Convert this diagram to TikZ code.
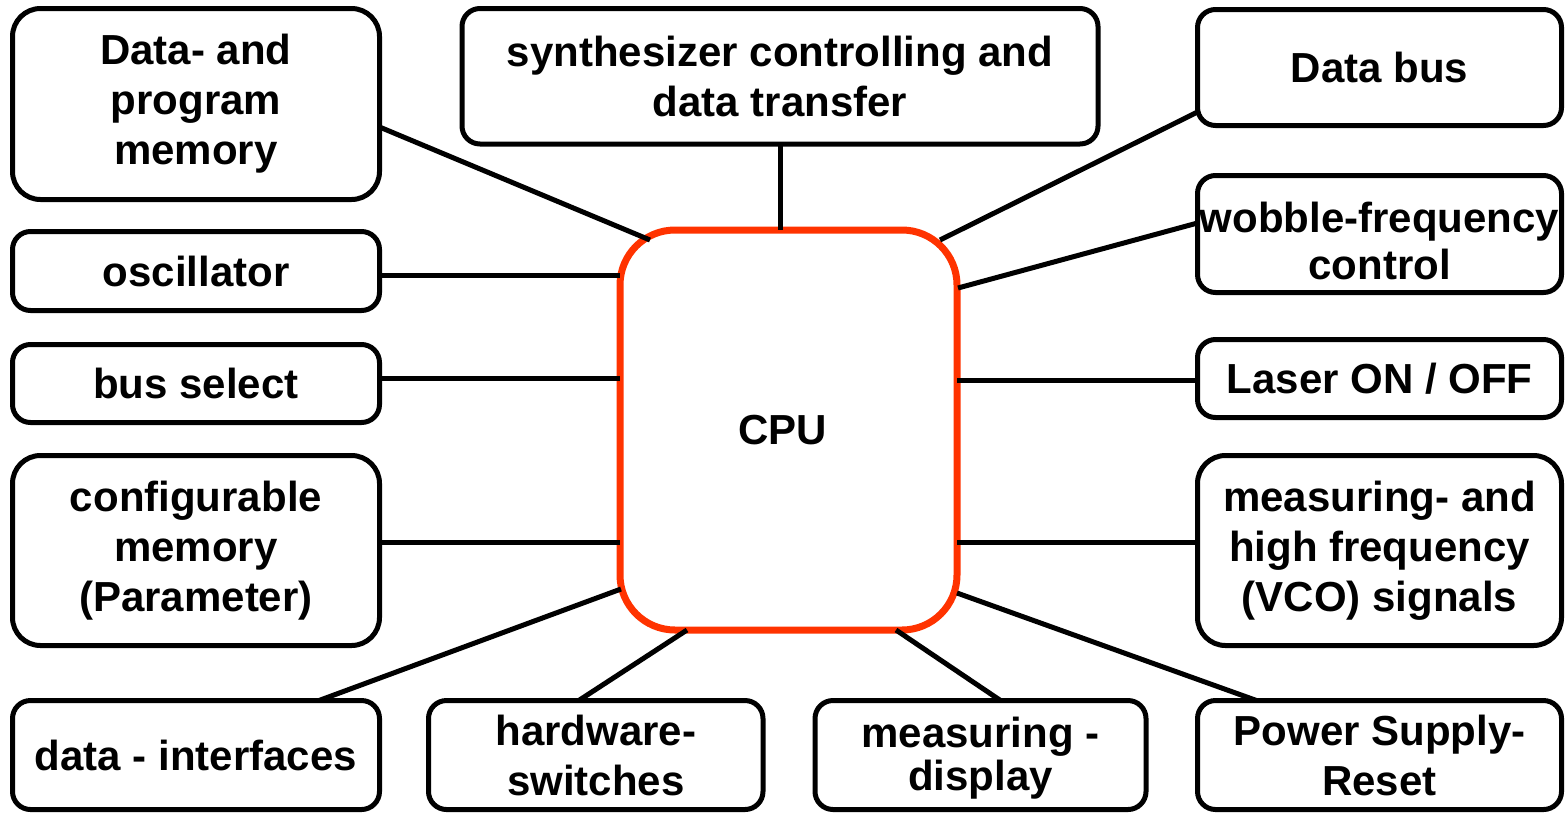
\documentclass[tikz,border=0pt]{standalone}
\usepackage{fontspec}
\setmainfont{Liberation Sans}
\usetikzlibrary{calc}
\definecolor{cpured}{RGB}{255,51,0}

\begin{document}
\begin{tikzpicture}[x=1pt,y=-1pt,
    font=\bfseries\fontsize{42}{50}\selectfont,
    box/.style={draw,line width=5pt,rounded corners=18pt,inner sep=0pt,outer sep=0pt,align=center},
    bigbox/.style={box,rounded corners=28pt},
    link/.style={line width=5pt}]
  \useasboundingbox (0,0) rectangle (1568,812);

  % centre
  \node[draw=cpured,line width=7pt,rounded corners=55pt,outer sep=0pt,
        minimum width=337pt,minimum height=400pt] (cpu) at (788.5,430) {CPU\hspace*{12pt}};

  % left column
  \node[bigbox,minimum width=367pt,minimum height=191pt] (mem) at (196,104) {Data- and\\program\\memory};
  \node[box,minimum width=367pt,minimum height=79pt] (osc) at (196,271) {oscillator};
  \node[box,minimum width=367pt,minimum height=78pt] (bus) at (196,383.5) {bus select};
  \node[bigbox,minimum width=367pt,minimum height=190pt] (cfg) at (196,550.5) {configurable\\memory\\(Parameter)};

  % top and right column
  \node[box,minimum width=636pt,minimum height=135.5pt] (synth) at (780,76.25) {synthesizer controlling and\\data transfer};
  \node[box,minimum width=364pt,minimum height=116pt] (databus) at (1379.5,67.5) {Data bus};
  \node[box,minimum width=364pt,minimum height=117pt] (wob) at (1379.5,234) {\rule{0pt}{45pt}wobble-frequency\\[-3pt]control};
  \node[box,minimum width=364pt,minimum height=78pt] (laser) at (1379.5,378.5) {Laser ON / OFF};
  \node[bigbox,minimum width=364pt,minimum height=190pt] (hf) at (1379.5,550.5) {measuring- and\\high frequency\\(VCO) signals};

  % bottom row
  \node[box,minimum width=367pt,minimum height=109pt] (iface) at (196,755) {data - interfaces};
  \node[box,minimum width=334.5pt,minimum height=109pt] (hw) at (595.75,755) {hardware-\\switches};
  \node[box,minimum width=331pt,minimum height=109pt] (disp) at (980.5,755) {\rule{0pt}{36pt}measuring -\\[-7pt]display};
  \node[box,minimum width=364pt,minimum height=109pt] (psu) at (1379.5,755) {Power Supply-\\Reset};

  % connectors
  \draw[link] ($(mem.east)+(0,23)$) -- ($(cpu.north west)+(30,10)$);
  \draw[link] (synth.south) -- (synth.south |- cpu.north);
  \draw[link] ($(databus.west)+(0,44.5)$) -- ($(cpu.north east)+(-17,10)$);
  \draw[link] ($(wob.west)+(0,-11)$) -- ($(cpu.north east)+(1,58)$);
  \draw[link] ($(osc.east)+(0,4)$) coordinate (o1) -- (o1 -| cpu.west);
  \draw[link] ($(bus.east)+(0,-5.5)$) coordinate (b1) -- (b1 -| cpu.west);
  \draw[link] ($(cfg.east)+(0,-8.5)$) coordinate (c1) -- (c1 -| cpu.west);
  \draw[link] ($(laser.west)+(0,1.5)$) coordinate (l1) -- (l1 -| cpu.east);
  \draw[link] ($(hf.west)+(0,-8.5)$) coordinate (h1) -- (h1 -| cpu.east);
  \draw[link] ($(iface.north)+(123,0)$) -- ($(cpu.south west)+(1,-41)$);
  \draw[link] ($(hw.north)+(-17,0)$) -- ($(cpu.south west)+(67,0)$);
  \draw[link] ($(disp.north)+(20,0)$) -- ($(cpu.south west)+(276,0)$);
  \draw[link] ($(psu.north)+(-123,0)$) -- ($(cpu.south east)+(0,-37)$);
\end{tikzpicture}
\end{document}
